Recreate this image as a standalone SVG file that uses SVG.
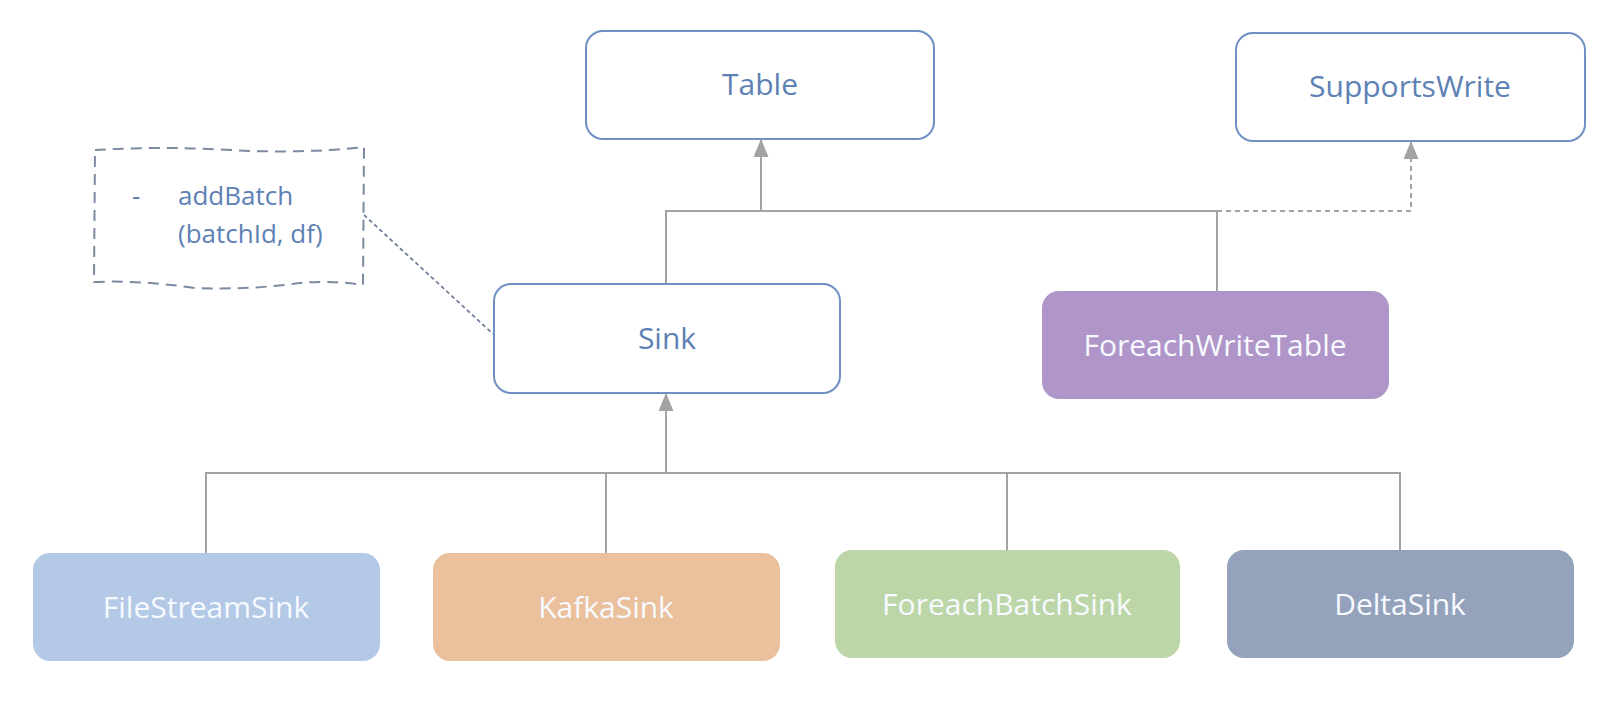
<svg xmlns="http://www.w3.org/2000/svg" width="1622" height="704" viewBox="0 0 1622 704">
<defs>
<marker id="tri" viewBox="0 0 18 15" refX="17" refY="7.5" markerWidth="18" markerHeight="15" markerUnits="userSpaceOnUse" orient="auto">
<path d="M0,0 L18,7.5 L0,15 Z" fill="#a3a3a3"/>
</marker>
<style>
.ob{fill:#ffffff;stroke:#6f90c2;stroke-width:2}
.ot{font-family:"Open Sans","Liberation Sans",sans-serif;font-size:30px;fill:#5d81b5;text-anchor:middle;dominant-baseline:central}
.ft{font-family:"Open Sans","Liberation Sans",sans-serif;font-size:30px;fill:#f7faff;text-anchor:middle;dominant-baseline:central}
.ln{fill:none;stroke:#a3a3a3;stroke-width:2}
.dl{fill:none;stroke:#a3a3a3;stroke-width:2;stroke-dasharray:5,4}
.nt{font-family:"Open Sans","Liberation Sans",sans-serif;font-size:26px;fill:#5d81b5}
</style>
</defs>
<rect width="1622" height="704" fill="#ffffff"/>
<g id="connectors">
<path class="ln" d="M761,211 V140" marker-end="url(#tri)"/>
<path class="ln" d="M666,284 V211 H1217 V291"/>
<path class="dl" d="M1217,211 H1411 V142" marker-end="url(#tri)"/>
<path class="ln" d="M666,473 V394" marker-end="url(#tri)"/>
<path class="ln" d="M206,553 V473 H1400 V550"/>
<path class="ln" d="M606,473 V553"/>
<path class="ln" d="M1007,473 V550"/>
<path d="M364,215 L493,334" fill="none" stroke="#6f7f99" stroke-width="1.8" stroke-dasharray="4,3"/>
</g>
<g id="note">
<path d="M95,150 Q160,146 230,150 T364,147 L363,285 Q330,280 300,283 Q250,290 195,288 Q140,280 94,282 Z" fill="#ffffff" stroke="#7d8ba2" stroke-width="2" stroke-dasharray="11,7"/>
<text class="nt" x="132" y="205">-</text>
<text class="nt" x="178" y="205">addBatch</text>
<text class="nt" x="178" y="243">(batchId, df)</text>
</g>
<g id="table">
<rect class="ob" x="586" y="31" width="348" height="108" rx="17"/>
<text class="ot" x="760" y="83">Table</text>
</g>
<g id="supportswrite">
<rect class="ob" x="1236" y="33" width="349" height="108" rx="17"/>
<text class="ot" x="1410" y="85">SupportsWrite</text>
</g>
<g id="sink">
<rect class="ob" x="494" y="284" width="346" height="109" rx="17"/>
<text class="ot" x="667" y="337">Sink</text>
</g>
<g id="foreachwritetable">
<rect x="1042" y="291" width="347" height="108" rx="17" fill="#b095c9"/>
<text class="ft" x="1215" y="344">ForeachWriteTable</text>
</g>
<g id="filestreamsink">
<rect x="33" y="553" width="347" height="108" rx="17" fill="#b3c9e6"/>
<text class="ft" x="206" y="606">FileStreamSink</text>
</g>
<g id="kafkasink">
<rect x="433" y="553" width="347" height="108" rx="17" fill="#ebc09c"/>
<text class="ft" x="606" y="606">KafkaSink</text>
</g>
<g id="foreachbatchsink">
<rect x="835" y="550" width="345" height="108" rx="17" fill="#bdd6a7"/>
<text class="ft" x="1007" y="603">ForeachBatchSink</text>
</g>
<g id="deltasink">
<rect x="1227" y="550" width="347" height="108" rx="17" fill="#94a3bb"/>
<text class="ft" x="1400" y="603">DeltaSink</text>
</g>
</svg>
